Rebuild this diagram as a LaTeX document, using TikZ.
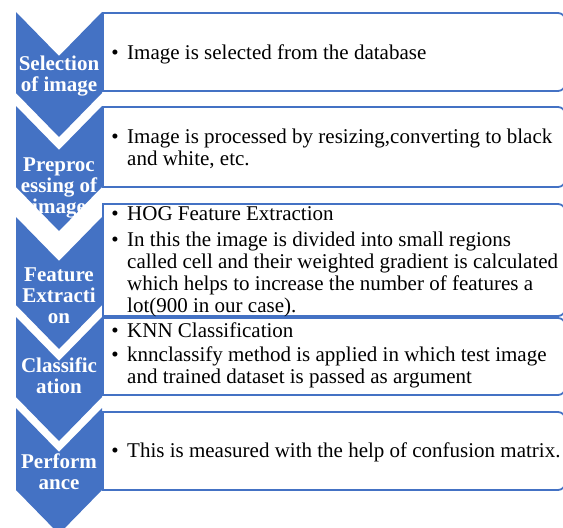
\documentclass[tikz,border=0pt]{standalone}
\usepackage{fontspec}
\setmainfont{Liberation Serif}
\definecolor{chevblue}{HTML}{4472C4}

\begin{document}
\begin{tikzpicture}[x=1pt,y=-1pt,
    chevtext/.style={text=white,font=\fontsize{21}{21}\selectfont\bfseries,align=center,anchor=base,inner sep=0pt},
    boxline/.style={chevblue,line width=1.8pt},
    item/.style={font=\fontsize{21}{22}\selectfont,align=left,anchor=base west,inner sep=0pt},
    dot/.style={font=\fontsize{21}{22}\selectfont,anchor=base,inner sep=0pt}]
    \useasboundingbox (0,0) rectangle (563,528);
    \clip (0,0) rectangle (563,528);

    % boxes, rounded on the right only
    \draw[boxline,rounded corners=7pt,line cap=rect] (103,13) -- (565,13) -- (565,91) -- (103,91);
    \draw[boxline] (103,13) -- (103,91);
    \draw[boxline,rounded corners=7pt,line cap=rect] (103,107) -- (565,107) -- (565,187) -- (103,187);
    \draw[boxline] (103,107) -- (103,187);
    \draw[boxline,rounded corners=7pt,line cap=rect] (103,204) -- (565,204) -- (565,316) -- (103,316);
    \draw[boxline] (103,204) -- (103,316);
    \draw[boxline,rounded corners=7pt,line cap=rect] (103,318) -- (565,318) -- (565,395) -- (103,395);
    \draw[boxline] (103,318) -- (103,395);
    \draw[boxline,rounded corners=7pt,line cap=rect] (103,412) -- (565,412) -- (565,490) -- (103,490);
    \draw[boxline] (103,412) -- (103,490);

    % chevrons
    \fill[chevblue] (16,12) -- (59,56) -- (102,12) -- (102,93) -- (59,137) -- (16,93) -- cycle;
    \fill[chevblue] (16,106) -- (59,150) -- (102,106) -- (102,187) -- (59,231) -- (16,187) -- cycle;
    \fill[chevblue] (16,217) -- (59,261) -- (102,217) -- (102,305) -- (59,349) -- (16,305) -- cycle;
    \fill[chevblue] (16,317) -- (59,361) -- (102,317) -- (102,397) -- (59,441) -- (16,397) -- cycle;
    \fill[chevblue] (16,408) -- (59,452) -- (102,408) -- (102,490) -- (59,534) -- (16,490) -- cycle;

    % chevron labels (base = last line)
    \node[chevtext] (sel) at (59,91) {Selection\\of image};
    \node[chevtext] (pre) at (59,213) {Preproc\\essing of\\image};
    \node[chevtext] (feat) at (59,323) {Feature\\Extracti\\on};
    \node[chevtext] (cls) at (59,393) {Classific\\ation};
    \node[chevtext] (perf) at (59,489) {Perform\\ance};

    % box texts
    \node[dot] (b1) at (115,59) {\textbullet};
    \node[item] (t1) at (127,59) {Image is selected from the database};
    \node[dot] (b2) at (115,143) {\textbullet};
    \node[item] (t2) at (127,165) {Image is processed by resizing,converting to black\\and white, etc.};
    \node[dot] (b3a) at (115,220) {\textbullet};
    \node[item] (t3a) at (127,220) {HOG Feature Extraction};
    \node[dot] (b3b) at (115,246) {\textbullet};
    \node[item] (t3b) at (127,312) {In this the image is divided into small regions\\called cell and their weighted gradient is calculated\\which helps to increase the number of features a\\lot(900 in our case).};
    \node[dot] (b4a) at (115,337) {\textbullet};
    \node[item] (t4a) at (127,337) {KNN Classification};
    \node[dot] (b4b) at (115,361) {\textbullet};
    \node[item] (t4b) at (127,383) {knnclassify method is applied in which test image\\and trained dataset is passed as argument};
    \node[dot] (b5) at (115,457) {\textbullet};
    \node[item] (t5) at (127,457) {This is measured with the help of confusion matrix.};
\end{tikzpicture}
\end{document}
